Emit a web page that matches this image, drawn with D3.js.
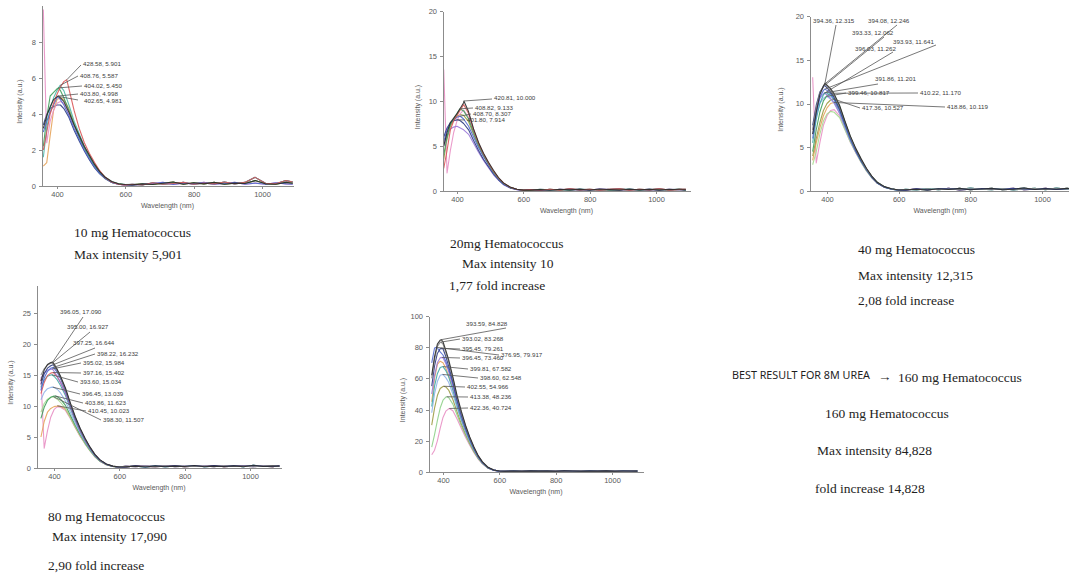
<!DOCTYPE html>
<html>
<head>
<meta charset="utf-8">
<script src="https://cdn.jsdelivr.net/npm/d3@7"></script>
<style>
  html, body { margin: 0; padding: 0; background: #fff; }
  svg { display: block; }
  .axis path, .axis line { stroke: #8c8c8c; shape-rendering: crispEdges; }
  .axis text { fill: #5a5a5a; font-family: "Liberation Sans", Arial, sans-serif; font-size: 7.5px; }
  .axis-title { fill: #5a5a5a; font-family: "Liberation Sans", Arial, sans-serif; font-size: 7px; }
  .peak-label { fill: #3c3c3c; font-family: "Liberation Sans", Arial, sans-serif; font-size: 6.2px; }
  .leader { stroke: #555; stroke-width: 0.8; }
  .caption { fill: #1e1e1e; font-family: "Liberation Serif", "Times New Roman", serif; font-size: 13.5px; }
  .headline { fill: #1e1e1e; font-family: "Noto Sans", "Open Sans", sans-serif; font-size: 10.5px; }
</style>
</head>
<body>
<svg id="fig" width="1069" height="578"></svg>
<script>
// Emission spectra (intensity, a.u.) on a shared wavelength grid (nm)
const wavelengths = [360, 370, 380, 390, 400, 410, 420, 435, 450, 465, 480, 495, 510, 525, 540, 560, 580, 600];
const tailWavelengths = [620, 650, 680, 710, 740, 770, 800, 830, 860, 890, 920, 950, 980, 1010, 1040, 1070, 1090];
const xTickValues = [400, 600, 800, 1000];

// ---- 10 mg Hematococcus ----
const mg10Values = [
  [3.2, 3.9, 4.4, 4.8, 4.95, 4.9, 4.7, 4.1, 3.4, 2.8, 2.2, 1.7, 1.2, 0.8, 0.5, 0.25, 0.12, 0.08],
  [2.0, 3.0, 4.0, 4.6, 5.1, 5.5, 5.8, 5.4, 4.2, 3.2, 2.4, 1.8, 1.3, 0.85, 0.5, 0.22, 0.1, 0.06],
  [3.0, 3.6, 4.1, 4.5, 4.9, 4.8, 4.5, 3.9, 3.2, 2.6, 2.0, 1.5, 1.05, 0.7, 0.45, 0.2, 0.1, 0.06],
  [2.2, 3.8, 5.0, 5.2, 5.4, 5.3, 4.9, 4.2, 3.4, 2.7, 2.1, 1.6, 1.1, 0.75, 0.45, 0.2, 0.12, 0.07],
  [1.6, 3.2, 4.3, 4.9, 5.3, 5.55, 5.3, 4.5, 3.6, 2.9, 2.2, 1.7, 1.2, 0.8, 0.5, 0.25, 0.12, 0.08],
  [9.8, 2.4, 3.6, 4.2, 4.6, 4.7, 4.6, 4.0, 3.3, 2.7, 2.1, 1.6, 1.1, 0.75, 0.45, 0.22, 0.1, 0.05],
  [1.1, 1.3, 2.8, 4.2, 4.8, 4.9, 4.8, 4.3, 3.5, 2.8, 2.2, 1.7, 1.2, 0.8, 0.5, 0.24, 0.12, 0.06],
  [3.4, 4.0, 4.3, 4.4, 4.5, 4.5, 4.3, 3.8, 3.1, 2.5, 1.95, 1.45, 1.0, 0.68, 0.42, 0.2, 0.1, 0.05]
];
const mg10Peaks = [[403.80, 4.998], [428.58, 5.901], [402.65, 4.981], [404.02, 5.450], [408.76, 5.587], null, null, null];
const mg10Tails = [
  [0.06, 0.12, 0.08, 0.15, 0.22, 0.1, 0.18, 0.12, 0.2, 0.1, 0.16, 0.14, 0.3, 0.12, 0.1, 0.2, 0.15],
  [0.1, 0.06, 0.18, 0.1, 0.14, 0.2, 0.1, 0.16, 0.12, 0.22, 0.12, 0.2, 0.48, 0.15, 0.12, 0.3, 0.22],
  [0.04, 0.1, 0.14, 0.2, 0.08, 0.16, 0.12, 0.2, 0.1, 0.14, 0.2, 0.1, 0.16, 0.1, 0.18, 0.12, 0.1]
];
const mg10Colors = ["#2a2a2a", "#d95757", "#5068d0", "#3f9f5a", "#4bb7a8", "#e88fc4", "#e5a35a", "#2b3a80"];
const mg10LabelPos = [[80, 96, 78, 94], [83, 66, 81, 65], [84, 103, 78, 100], [84, 88, 82, 86], [80, 78, 78, 76], null, null, null];

// ---- 20 mg Hematococcus ----
const mg20Values = [
  [5.0, 6.5, 7.6, 8.1, 8.6, 9.2, 9.8, 8.8, 6.9, 5.4, 4.2, 3.2, 2.3, 1.5, 0.9, 0.45, 0.2, 0.1],
  [2.5, 4.5, 6.8, 7.8, 8.4, 9.0, 9.6, 8.6, 6.8, 5.3, 4.1, 3.1, 2.2, 1.45, 0.9, 0.42, 0.2, 0.1],
  [4.0, 6.0, 7.4, 8.0, 8.6, 9.1, 8.9, 8.0, 6.5, 5.1, 4.0, 3.0, 2.1, 1.4, 0.85, 0.4, 0.2, 0.1],
  [5.5, 6.8, 7.5, 7.9, 8.2, 8.3, 8.0, 7.2, 6.0, 4.8, 3.8, 2.9, 2.0, 1.35, 0.8, 0.38, 0.18, 0.08],
  [6.0, 7.0, 7.6, 7.8, 7.9, 7.8, 7.5, 6.8, 5.6, 4.5, 3.5, 2.7, 1.9, 1.25, 0.75, 0.35, 0.17, 0.08],
  [5.0, 6.2, 6.9, 7.1, 7.2, 7.0, 6.8, 6.3, 5.3, 4.3, 3.4, 2.6, 1.8, 1.2, 0.7, 0.33, 0.15, 0.07],
  [13.5, 2.0, 4.5, 6.5, 7.8, 8.6, 9.0, 8.2, 6.6, 5.2, 4.0, 3.0, 2.1, 1.4, 0.85, 0.4, 0.18, 0.08],
  [3.5, 5.8, 7.2, 7.9, 8.3, 8.5, 8.4, 7.7, 6.3, 5.0, 3.9, 3.0, 2.1, 1.4, 0.85, 0.4, 0.2, 0.1]
];
const mg20Peaks = [[420.81, 10.000], null, [408.82, 9.133], [408.70, 8.307], [401.80, 7.914], null, null, null];
const mg20Tails = [
  [0.1, 0.15, 0.08, 0.2, 0.12, 0.18, 0.1, 0.22, 0.15, 0.1, 0.2, 0.12, 0.18, 0.1, 0.2, 0.14, 0.12],
  [0.15, 0.08, 0.2, 0.1, 0.25, 0.12, 0.2, 0.1, 0.18, 0.24, 0.1, 0.2, 0.12, 0.25, 0.1, 0.18, 0.2],
  [0.05, 0.2, 0.12, 0.15, 0.08, 0.22, 0.14, 0.16, 0.1, 0.15, 0.22, 0.1, 0.2, 0.15, 0.12, 0.22, 0.1]
];
const mg20Colors = ["#2a2a2a", "#d95757", "#3f9f5a", "#5068d0", "#2b3a80", "#9a78d8", "#e88fc4", "#9b9b42"];
const mg20LabelPos = [[494, 100, 492, 99], null, [475, 110, 473, 108], [473, 116, 471, 114], [467, 122, 465, 120], null, null, null];

// ---- 40 mg Hematococcus ----
const mg40Values = [
  [6.5, 9.0, 11.0, 12.0, 12.1, 11.7, 11.1, 9.8, 8.0, 6.3, 4.9, 3.7, 2.6, 1.7, 1.0, 0.5, 0.25, 0.12],
  [7.0, 9.5, 11.2, 12.0, 12.0, 11.5, 10.9, 9.6, 7.9, 6.2, 4.8, 3.6, 2.5, 1.65, 1.0, 0.48, 0.24, 0.12],
  [7.5, 9.8, 11.3, 11.9, 11.8, 11.3, 10.7, 9.4, 7.7, 6.1, 4.7, 3.5, 2.5, 1.6, 0.95, 0.46, 0.22, 0.11],
  [6.0, 8.8, 10.7, 11.5, 11.5, 11.1, 10.5, 9.3, 7.6, 6.0, 4.6, 3.5, 2.45, 1.6, 0.95, 0.45, 0.22, 0.1],
  [5.5, 8.2, 10.0, 11.0, 11.2, 10.9, 10.4, 9.2, 7.5, 5.9, 4.6, 3.4, 2.4, 1.55, 0.92, 0.44, 0.21, 0.1],
  [7.0, 9.2, 10.6, 11.1, 11.0, 10.6, 10.1, 8.9, 7.3, 5.8, 4.5, 3.4, 2.4, 1.55, 0.9, 0.43, 0.2, 0.1],
  [4.5, 7.0, 9.0, 10.3, 10.9, 11.15, 10.9, 9.7, 7.9, 6.2, 4.8, 3.6, 2.5, 1.65, 1.0, 0.48, 0.23, 0.11],
  [6.5, 8.6, 10.0, 10.6, 10.8, 10.5, 10.0, 8.9, 7.3, 5.8, 4.5, 3.4, 2.4, 1.55, 0.92, 0.44, 0.21, 0.1],
  [4.0, 6.0, 7.8, 9.2, 10.0, 10.4, 10.5, 9.6, 7.8, 6.1, 4.7, 3.5, 2.5, 1.6, 0.95, 0.46, 0.22, 0.1],
  [3.5, 5.5, 7.2, 8.6, 9.5, 10.0, 10.1, 9.3, 7.6, 6.0, 4.6, 3.5, 2.45, 1.6, 0.95, 0.45, 0.22, 0.1],
  [3.0, 4.5, 6.5, 8.0, 8.8, 9.1, 9.0, 8.4, 7.0, 5.6, 4.4, 3.3, 2.3, 1.5, 0.9, 0.43, 0.2, 0.1],
  [13.0, 3.2, 5.5, 7.5, 8.6, 9.2, 9.3, 8.6, 7.1, 5.6, 4.4, 3.3, 2.3, 1.5, 0.9, 0.42, 0.2, 0.1]
];
const mg40Peaks = [[394.36, 12.315], [394.08, 12.246], [393.33, 12.062], [393.93, 11.641], [396.03, 11.262],
  [391.86, 11.201], [410.22, 11.170], [399.46, 10.817], [417.36, 10.527], [418.86, 10.119], null, null];
const mg40Tails = [
  [0.15, 0.2, 0.12, 0.25, 0.18, 0.3, 0.15, 0.22, 0.3, 0.15, 0.2, 0.35, 0.18, 0.25, 0.2, 0.3, 0.25],
  [0.2, 0.12, 0.28, 0.15, 0.22, 0.18, 0.35, 0.2, 0.15, 0.28, 0.12, 0.22, 0.3, 0.15, 0.35, 0.2, 0.4],
  [0.1, 0.25, 0.15, 0.2, 0.3, 0.12, 0.2, 0.28, 0.18, 0.22, 0.3, 0.15, 0.2, 0.3, 0.18, 0.25, 0.3]
];
const mg40Colors = ["#2a2a2a", "#8a8a8a", "#2b3a80", "#5068d0", "#3fa9a9", "#9a78d8", "#3f9f5a", "#8fb3e8", "#9b9b42", "#e5a35a", "#a6d98f", "#e88fc4"];
const mg40LabelPos = [[813, 23, 836, 25], [868, 23, 897, 25], [852, 35, 884, 37], [893, 44, 936, 45], [855, 51, 893, 52],
  [875, 81, 878, 84], [920, 95, 918, 93], [848, 95, 846, 93], [862, 110, 860, 108], [947, 109, 945, 107], null, null];

// ---- 80 mg Hematococcus ----
const mg80Values = [
  [14.0, 15.8, 16.7, 17.0, 16.8, 15.9, 14.8, 12.9, 10.5, 8.3, 6.4, 4.8, 3.4, 2.2, 1.35, 0.65, 0.3, 0.15],
  [15.0, 16.0, 16.6, 16.9, 16.6, 15.7, 14.6, 12.7, 10.4, 8.2, 6.3, 4.7, 3.3, 2.2, 1.3, 0.62, 0.3, 0.14],
  [13.5, 15.2, 16.1, 16.5, 16.5, 15.7, 14.6, 12.7, 10.3, 8.1, 6.3, 4.7, 3.3, 2.15, 1.3, 0.62, 0.28, 0.14],
  [12.5, 14.5, 15.6, 16.1, 16.1, 15.4, 14.4, 12.5, 10.2, 8.0, 6.2, 4.6, 3.25, 2.1, 1.28, 0.6, 0.28, 0.13],
  [14.5, 15.3, 15.8, 15.9, 15.6, 14.8, 13.8, 12.1, 9.9, 7.8, 6.0, 4.5, 3.2, 2.1, 1.25, 0.6, 0.28, 0.13],
  [12.0, 13.8, 14.9, 15.3, 15.3, 14.7, 13.8, 12.1, 9.9, 7.8, 6.0, 4.5, 3.2, 2.1, 1.25, 0.6, 0.27, 0.13],
  [13.0, 14.2, 14.8, 15.0, 14.8, 14.2, 13.3, 11.7, 9.6, 7.6, 5.9, 4.4, 3.1, 2.05, 1.22, 0.58, 0.27, 0.12],
  [11.0, 12.2, 12.8, 13.0, 13.0, 12.7, 12.1, 10.8, 9.0, 7.2, 5.6, 4.2, 3.0, 1.95, 1.18, 0.56, 0.26, 0.12],
  [8.0, 9.8, 10.9, 11.4, 11.6, 11.5, 11.1, 10.1, 8.5, 6.9, 5.4, 4.1, 2.9, 1.9, 1.15, 0.55, 0.25, 0.12],
  [9.0, 10.4, 11.1, 11.4, 11.4, 11.1, 10.6, 9.6, 8.1, 6.6, 5.2, 3.9, 2.8, 1.85, 1.1, 0.53, 0.24, 0.11],
  [5.0, 7.5, 9.0, 9.6, 9.9, 10.0, 9.95, 9.5, 8.2, 6.6, 5.2, 4.0, 2.85, 1.85, 1.12, 0.54, 0.25, 0.12],
  [14.5, 3.2, 6.0, 8.2, 9.4, 9.9, 9.8, 9.3, 8.0, 6.5, 5.1, 3.9, 2.8, 1.8, 1.1, 0.52, 0.24, 0.11]
];
const mg80Peaks = [[396.05, 17.090], [395.00, 16.927], [397.25, 16.644], [398.22, 16.232], [395.02, 15.984], [397.16, 15.402],
  [393.60, 15.034], [396.45, 13.039], [403.86, 11.623], [398.30, 11.507], [410.45, 10.023], null];
const mg80Tails = [
  [0.2, 0.3, 0.15, 0.35, 0.2, 0.3, 0.25, 0.4, 0.2, 0.3, 0.25, 0.35, 0.2, 0.45, 0.25, 0.3, 0.3],
  [0.3, 0.2, 0.35, 0.25, 0.4, 0.2, 0.3, 0.25, 0.35, 0.2, 0.4, 0.25, 0.3, 0.2, 0.35, 0.4, 0.25],
  [0.15, 0.35, 0.25, 0.2, 0.3, 0.35, 0.2, 0.3, 0.25, 0.4, 0.2, 0.3, 0.35, 0.25, 0.3, 0.2, 0.35]
];
const mg80Colors = ["#2a2a2a", "#8a8a8a", "#2b3a80", "#5068d0", "#9a78d8", "#d95757", "#3fa9a9", "#8fb3e8", "#3f9f5a", "#a6d98f", "#e5a35a", "#e88fc4"];
const mg80LabelPos = [[60, 314, 83, 317], [67, 329, 90, 332], [73, 345, 95, 348], [97, 356, 95, 354], [83, 365, 81, 363],
  [83, 375, 81, 373], [80, 384, 78, 382], [82, 396, 80, 394], [85, 405, 83, 403], [103, 422, 101, 420], [88, 413, 86, 411], null];

// ---- 160 mg Hematococcus ----
const mg160Values = [
  [62, 74, 82, 84.5, 83.5, 78, 72, 61, 49, 39, 30, 22.5, 16, 10.5, 6.5, 3.0, 1.3, 0.6],
  [60, 72, 80.5, 83.1, 82, 76.5, 70.5, 60, 48, 38, 29.5, 22, 15.7, 10.3, 6.4, 2.9, 1.3, 0.6],
  [55, 68, 76, 79, 79, 74, 68, 58, 46.5, 37, 28.5, 21.3, 15.2, 10, 6.2, 2.8, 1.25, 0.55],
  [70, 79.5, 79.5, 77, 75, 71, 66, 56.5, 45.5, 36, 28, 21, 15, 9.8, 6.1, 2.8, 1.2, 0.55],
  [50, 62, 70, 73.2, 73.2, 69.5, 64.5, 55, 44.5, 35.3, 27.4, 20.6, 14.7, 9.7, 6.0, 2.75, 1.2, 0.55],
  [42, 55, 63, 67, 67.5, 65, 61, 52.5, 42.8, 34, 26.5, 20, 14.3, 9.5, 5.9, 2.7, 1.2, 0.5],
  [38, 50, 58, 62, 62.4, 60.5, 57.5, 50, 41, 32.8, 25.7, 19.4, 13.9, 9.2, 5.7, 2.6, 1.15, 0.5],
  [30, 41, 49, 53.5, 54.8, 54.5, 52.5, 46.5, 38.5, 31, 24.4, 18.5, 13.3, 8.9, 5.5, 2.5, 1.1, 0.5],
  [16, 24, 33, 41, 46, 48, 47.8, 43.5, 36.5, 29.6, 23.4, 17.8, 12.9, 8.6, 5.4, 2.45, 1.1, 0.5],
  [11, 14, 20, 28, 35, 39, 40.5, 39.3, 34, 28, 22.3, 17.1, 12.4, 8.3, 5.2, 2.4, 1.05, 0.45],
  [45, 60, 69, 71, 70, 66.5, 62, 53.5, 43.5, 34.6, 27, 20.3, 14.5, 9.6, 6.0, 2.7, 1.2, 0.5]
];
const mg160Peaks = [[393.59, 84.828], [393.02, 83.268], [395.45, 79.261], [376.95, 79.917], [396.45, 73.460],
  [399.81, 67.582], [398.60, 62.548], [402.55, 54.966], [413.38, 48.236], [422.36, 40.724], null];
const mg160Tails = [
  [0.5, 0.6, 0.45, 0.7, 0.55, 0.6, 0.5, 0.75, 0.6, 0.5, 0.65, 0.55, 0.7, 0.5, 0.6, 0.65, 0.55],
  [0.6, 0.45, 0.7, 0.5, 0.65, 0.55, 0.7, 0.45, 0.6, 0.7, 0.5, 0.6, 0.55, 0.7, 0.5, 0.6, 0.65],
  [0.4, 0.55, 0.6, 0.45, 0.6, 0.7, 0.5, 0.6, 0.45, 0.55, 0.7, 0.5, 0.6, 0.55, 0.65, 0.5, 0.6]
];
const mg160Colors = ["#2a2a2a", "#8a8a8a", "#2b3a80", "#5068d0", "#9a78d8", "#3fa9a9", "#8fb3e8", "#9b9b42", "#8fd08a", "#e88fc4", "#e5a35a"];
const mg160LabelPos = [[466, 326, 506, 328], [462, 341, 460, 339], [462, 351, 460, 349], [501, 357, 499, 355], [462, 360, 460, 358],
  [470, 371, 468, 369], [480, 380, 478, 378], [467, 389, 465, 387], [470, 399, 468, 397], [470, 410, 468, 408], null];

// Caption texts
const captionLines = [
  "10 mg Hematococcus", "Max intensity 5,901",
  "20mg Hematococcus", "Max intensity 10", "1,77 fold increase",
  "40 mg Hematococcus", "Max intensity 12,315", "2,08 fold increase",
  "80 mg Hematococcus", "Max intensity 17,090", "2,90 fold increase",
  "160 mg Hematococcus", "Max intensity 84,828", "fold increase 14,828"
];
const captionPos = [[74, 237], [74, 259], [450, 248], [462, 268], [449, 290], [858, 254], [858, 280], [858, 305],
  [48, 521], [52, 541], [48, 570], [825, 418], [817, 455], [815, 493]];
const headlineText = "BEST RESULT FOR 8M UREA";
const headlineTarget = "160 mg Hematococcus";

// Panel geometry (pixel positions of the 400 and 1000 nm ticks, axis extents, a y reference tick)
const panels = [
  { key: "mg10", values: mg10Values, peaks: mg10Peaks, tails: mg10Tails, colors: mg10Colors, labels: mg10LabelPos,
    x400: 57, x1000: 262, xLeft: 42, xRight: 293, yZero: 186, yRef: [8, 42], yTop: 5, yTicks: [0, 2, 4, 6, 8], yTitleX: 22 },
  { key: "mg20", values: mg20Values, peaks: mg20Peaks, tails: mg20Tails, colors: mg20Colors, labels: mg20LabelPos,
    x400: 457, x1000: 656, xLeft: 443, xRight: 690, yZero: 191, yRef: [20, 11], yTop: 11, yTicks: [0, 5, 10, 15, 20], yTitleX: 420 },
  { key: "mg40", values: mg40Values, peaks: mg40Peaks, tails: mg40Tails, colors: mg40Colors, labels: mg40LabelPos,
    x400: 827, x1000: 1042, xLeft: 810, xRight: 1070, yZero: 191, yRef: [20, 16], yTop: 16, yTicks: [0, 5, 10, 15, 20], yTitleX: 783 },
  { key: "mg80", values: mg80Values, peaks: mg80Peaks, tails: mg80Tails, colors: mg80Colors, labels: mg80LabelPos,
    x400: 54, x1000: 250, xLeft: 37, xRight: 281, yZero: 468, yRef: [25, 313], yTop: 285, yTicks: [0, 5, 10, 15, 20, 25], yTitleX: 13 },
  { key: "mg160", values: mg160Values, peaks: mg160Peaks, tails: mg160Tails, colors: mg160Colors, labels: mg160LabelPos,
    x400: 443, x1000: 612, xLeft: 429, xRight: 643, yZero: 472, yRef: [100, 316], yTop: 316, yTicks: [0, 20, 40, 60, 80, 100], yTitleX: 405 }
];

const svg = d3.select("#fig");
const defs = svg.append("defs");

function drawPanel(p) {
  const x = d3.scaleLinear().domain([400, 1000]).range([p.x400, p.x1000]);
  x.domain([x.invert(p.xLeft), x.invert(p.xRight)]).range([p.xLeft, p.xRight]);
  const y = d3.scaleLinear().domain([0, p.yRef[0]]).range([p.yZero, p.yRef[1]]);
  y.domain([0, y.invert(p.yTop)]).range([p.yZero, p.yTop]);

  const g = svg.append("g").attr("class", "panel-" + p.key);

  defs.append("clipPath").attr("id", "clip-" + p.key)
    .append("rect")
    .attr("x", p.xLeft).attr("y", p.yTop)
    .attr("width", p.xRight - p.xLeft).attr("height", p.yZero - p.yTop);

  const series = p.values.map((vals, i) => {
    const pts = wavelengths.map((w, j) => [w, vals[j]]);
    if (p.peaks[i]) pts.push(p.peaks[i]);
    pts.sort((a, b) => a[0] - b[0]);
    const tail = p.tails[i % p.tails.length];
    tailWavelengths.forEach((w, j) => pts.push([w, tail[j]]));
    return { pts, color: p.colors[i], index: i };
  });

  const line = d3.line().x(d => x(d[0])).y(d => y(d[1]));

  g.append("g").attr("clip-path", "url(#clip-" + p.key + ")")
    .selectAll("path")
    .data(series.slice().reverse())
    .join("path")
    .attr("d", d => line(d.pts))
    .attr("fill", "none")
    .attr("stroke", d => d.color)
    .attr("stroke-width", 1.1)
    .attr("stroke-linejoin", "round")
    .attr("opacity", 0.9);

  // axes
  g.append("g").attr("class", "axis")
    .attr("transform", `translate(0,${p.yZero})`)
    .call(d3.axisBottom(x).tickValues(xTickValues).tickFormat(d3.format("d"))
      .tickSize(3).tickSizeOuter(0).tickPadding(3));
  g.append("g").attr("class", "axis")
    .attr("transform", `translate(${p.xLeft},0)`)
    .call(d3.axisLeft(y).tickValues(p.yTicks).tickFormat(d3.format("d"))
      .tickSize(3).tickSizeOuter(0).tickPadding(3));

  g.append("text").attr("class", "axis-title")
    .attr("x", (p.xLeft + p.xRight) / 2).attr("y", p.yZero + 22)
    .attr("text-anchor", "middle").text("Wavelength (nm)");
  g.append("text").attr("class", "axis-title")
    .attr("transform", `translate(${p.yTitleX},${(p.yTop + p.yZero) / 2 + 6}) rotate(-90)`)
    .attr("text-anchor", "middle").text("Intensity (a.u.)");

  // peak annotations with leader lines
  const ann = series.filter(s => p.peaks[s.index] && p.labels[s.index]).map(s => ({
    peak: p.peaks[s.index], pos: p.labels[s.index]
  }));
  const ag = g.append("g");
  ag.selectAll("line").data(ann).join("line").attr("class", "leader")
    .attr("x1", d => x(d.peak[0])).attr("y1", d => y(d.peak[1]))
    .attr("x2", d => d.pos[2]).attr("y2", d => d.pos[3]);
  ag.selectAll("text").data(ann).join("text").attr("class", "peak-label")
    .attr("x", d => d.pos[0]).attr("y", d => d.pos[1])
    .text(d => `${d.peak[0].toFixed(2)}, ${d.peak[1].toFixed(3)}`);
}

panels.forEach(drawPanel);

// captions
svg.append("g").selectAll("text").data(captionLines).join("text")
  .attr("class", "caption")
  .attr("x", (d, i) => captionPos[i][0]).attr("y", (d, i) => captionPos[i][1])
  .text(d => d);

svg.append("text").attr("class", "headline")
  .attr("x", 732).attr("y", 379)
  .attr("textLength", 138).attr("lengthAdjust", "spacingAndGlyphs")
  .text(headlineText);
svg.append("text").attr("class", "caption").attr("x", 878).attr("y", 381).text("\u2192");
svg.append("text").attr("class", "caption").attr("x", 898).attr("y", 382).text(headlineTarget);
</script>
</body>
</html>
